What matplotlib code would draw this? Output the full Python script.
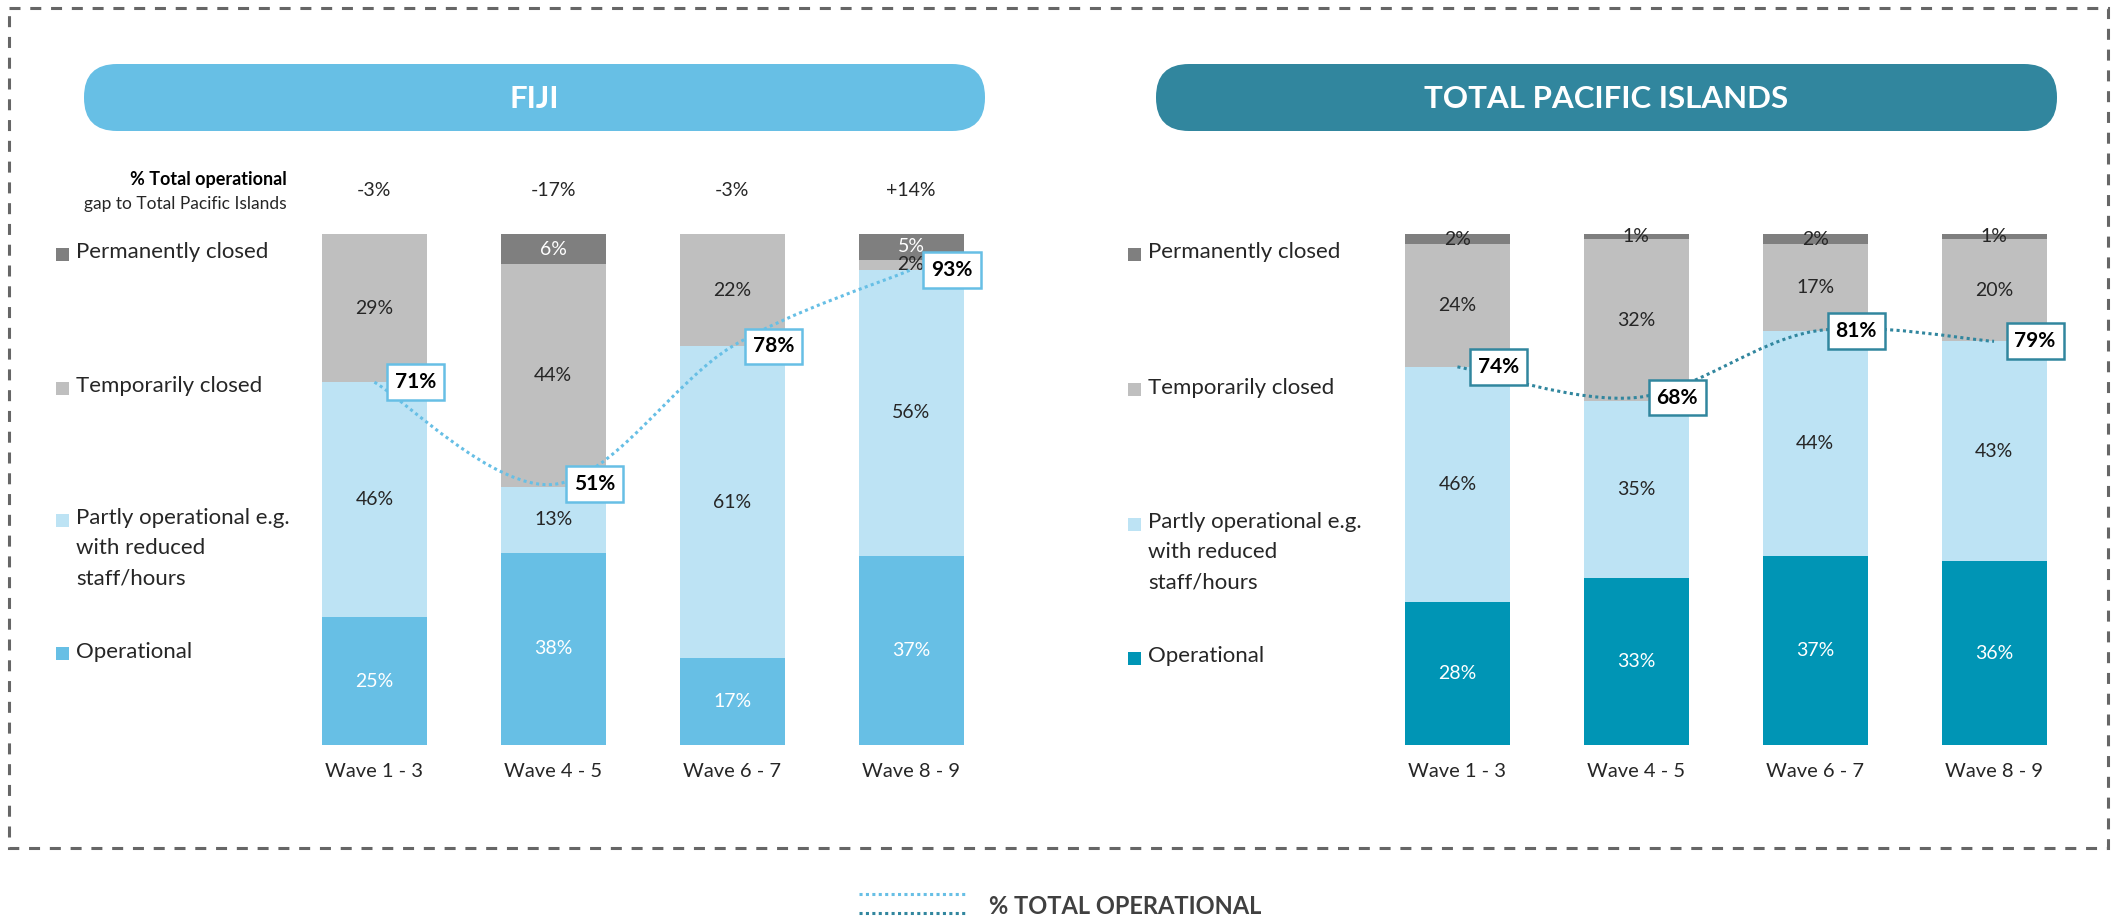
import matplotlib
matplotlib.use("Agg")
import matplotlib.pyplot as plt
from matplotlib.patches import Rectangle, FancyBboxPatch, PathPatch
from matplotlib.path import Path
from matplotlib.lines import Line2D
from matplotlib.transforms import blended_transform_factory
import numpy as np

plt.rcParams['font.family'] = ['Lato', 'DejaVu Sans']

# ---------------- data ----------------
waves = ["Wave 1 - 3", "Wave 4 - 5", "Wave 6 - 7", "Wave 8 - 9"]
legend_labels = ["Permanently closed", "Temporarily closed",
                 "Partly operational e.g.\nwith reduced\nstaff/hours", "Operational"]

fiji_operational = [25, 38, 17, 37]
fiji_partly = [46, 13, 61, 56]
fiji_temp_closed = [29, 44, 22, 2]
fiji_perm_closed = [0, 6, 0, 5]
fiji_total_operational = [71, 51, 78, 93]
fiji_gap = ["-3%", "-17%", "-3%", "+14%"]

pac_operational = [28, 33, 37, 36]
pac_partly = [46, 35, 44, 43]
pac_temp_closed = [24, 32, 17, 20]
pac_perm_closed = [2, 1, 2, 1]
pac_total_operational = [74, 68, 81, 79]

panel_titles = ["FIJI", "TOTAL PACIFIC ISLANDS"]

# ---------------- style ----------------
C_PERM = "#7F7F7F"
C_TEMP = "#BFBFBF"
C_PART = "#BDE3F4"
C_FIJI = "#67BFE5"
C_PAC_OP = "#0095B5"
C_PAC = "#31869E"
TXT = "#262626"
WT = "normal"

W, H = 2125, 919
fig = plt.figure(figsize=(W / 100, H / 100), dpi=100)

ov = fig.add_axes([0, 0, 1, 1], zorder=0)
ov.set_xlim(0, W)
ov.set_ylim(H, 0)
ov.axis("off")

# dashed border
ov.add_patch(Rectangle((9, 8), 2099, 840, fill=False, edgecolor="#666666",
                       lw=2.2, linestyle=(0, (3.6, 3.2))))

# title pills
for (x0, x1), col, title in [((84, 985), C_FIJI, panel_titles[0]),
                             ((1156, 2057), C_PAC, panel_titles[1])]:
    ov.add_patch(FancyBboxPatch((x0, 64), (x1 - x0), 67,
                                boxstyle="round,pad=0,rounding_size=33",
                                facecolor=col, edgecolor="none"))
    ov.text((x0 + x1) / 2, 99, title, color="white", fontsize=22.5,
            fontweight="bold", ha="center", va="center")


def smooth_path(xs, ys):
    pts = np.column_stack([xs, ys]).astype(float)
    n = len(pts)
    verts = [pts[0]]
    codes = [Path.MOVETO]
    for i in range(n - 1):
        p0 = pts[i - 1] if i > 0 else pts[i]
        p1 = pts[i]
        p2 = pts[i + 1]
        p3 = pts[i + 2] if i + 2 < n else pts[i + 1]
        c1 = p1 + (p2 - p0) / 6.0
        c2 = p2 - (p3 - p1) / 6.0
        verts += [c1, c2, p2]
        codes += [Path.CURVE4] * 3
    return Path(verts, codes)


def panel(left_px, series, op_color, line_color, total, perm_label_color,
          legend_x, legend_ys, gap=None):
    ax = fig.add_axes([left_px / W, 1 - 745 / H, 715.5 / W, 511 / H], zorder=2)
    x = np.arange(len(waves))
    stack = np.array(series, dtype=float)
    sums = stack.sum(axis=0)
    norm = stack / sums * 100
    colors = [op_color, C_PART, C_TEMP, C_PERM]
    label_colors = ["white", TXT, TXT, perm_label_color]
    bottom = np.zeros(len(waves))
    for k in range(4):
        ax.bar(x, norm[k], 0.587, bottom=bottom, color=colors[k], edgecolor="none", zorder=1)
        for i in range(len(waves)):
            if series[k][i] > 0:
                ax.text(x[i], bottom[i] + norm[k][i] / 2, f"{series[k][i]}%",
                        ha="center", va="center", fontsize=14, fontweight=WT,
                        color=label_colors[k], zorder=3)
        bottom += norm[k]
    ax.set_xlim(-0.5, len(waves) - 0.5)
    ax.set_ylim(0, 100)
    for s in ax.spines.values():
        s.set_visible(False)
    ax.set_yticks([])
    ax.set_xticks(x)
    ax.set_xticklabels(waves, fontsize=14.5, color=TXT, fontweight=WT)
    ax.tick_params(axis="x", length=0, pad=13)
    ax.patch.set_alpha(0)

    # smoothed dotted total-operational line
    pp = PathPatch(smooth_path(x, total), fill=False, edgecolor=line_color,
                   lw=2.2, linestyle=(0, (1, 1.1)), zorder=4)
    ax.add_patch(pp)
    for i in range(len(waves)):
        ax.annotate(f"{total[i]}%", (x[i], total[i]), xytext=(41, 0),
                    textcoords="offset pixels", ha="center", va="center",
                    fontsize=15, fontweight="bold", color="black", zorder=6,
                    bbox=dict(boxstyle="square,pad=0.38", facecolor="white",
                              edgecolor=line_color, lw=1.8))

    # legend
    sq_cols = [C_PERM, C_TEMP, C_PART, op_color]
    for col, lab, yy in zip(sq_cols, legend_labels, legend_ys):
        ov.add_patch(Rectangle((legend_x, yy - 6.5), 13, 13, facecolor=col, edgecolor="none"))
        ov.text(legend_x + 20, yy - 11.5, lab, fontsize=16, color=TXT, fontweight=WT,
                ha="left", va="top", linespacing=1.62)

    if gap is not None:
        tr = blended_transform_factory(ax.transData, ov.transData)
        for i in range(len(waves)):
            ax.text(x[i], 191, gap[i], transform=tr, ha="center", va="center",
                    fontsize=14, color=TXT, fontweight=WT)
    return ax


panel(285, [fiji_operational, fiji_partly, fiji_temp_closed, fiji_perm_closed],
      C_FIJI, C_FIJI, fiji_total_operational, "white", 56, [254, 388, 520, 653],
      gap=fiji_gap)
panel(1368, [pac_operational, pac_partly, pac_temp_closed, pac_perm_closed],
      C_PAC_OP, C_PAC, pac_total_operational, TXT, 1128, [254, 389, 524, 658])

# gap header
ov.text(287, 179, "% Total operational", fontsize=13, fontweight="bold",
        color="black", ha="right", va="center")
ov.text(287, 204, "gap to Total Pacific Islands", fontsize=12.5, fontweight=WT,
        color=TXT, ha="right", va="center")

# bottom legend
ov.add_line(Line2D([859, 968], [894, 894], color=C_FIJI, lw=2.2, linestyle=(0, (1, 1.1))))
ov.add_line(Line2D([859, 968], [913, 913], color=C_PAC, lw=2.2, linestyle=(0, (1, 1.1))))
ov.text(989, 906, "% TOTAL OPERATIONAL", fontsize=17, fontweight="bold",
        color="#404040", ha="left", va="center")

fig.savefig("out.png", dpi=100, facecolor="white")
